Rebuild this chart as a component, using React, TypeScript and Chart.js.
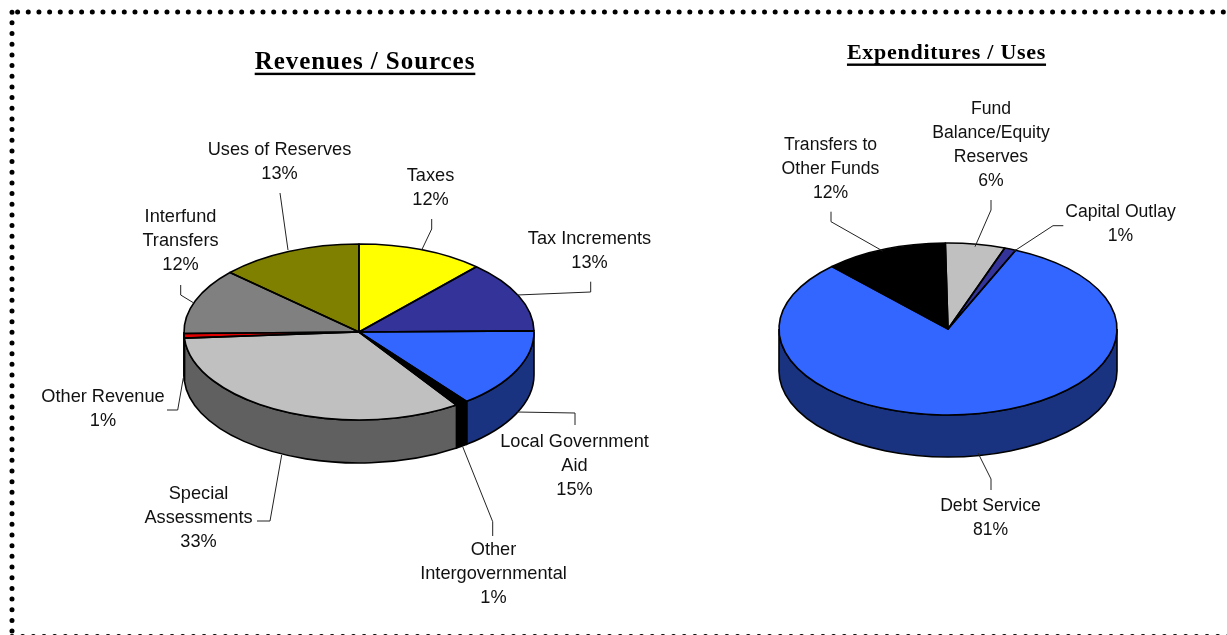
import React, { useEffect, useRef } from "react";
import { Chart, registerables } from "chart.js";
Chart.register(...registerables);

const revLabels = ["Taxes", "Tax Increments", "Local Government Aid", "Other Intergovernmental", "Special Assessments", "Other Revenue", "Interfund Transfers", "Uses of Reserves"];
const revValues = [11.7, 13.1, 14.65, 1.15, 33.3, 0.82, 12.08, 13.2];
const revColors = ["#FFFF00", "#333399", "#3366FF", "#000000", "#C0C0C0", "#E00000", "#808080", "#808000"];
const revSide = ["#808000", "#1A1A4D", "#1A3380", "#000000", "#606060", "#400000", "#404040", "#404000"];
const revText = [["Taxes", "12%"], ["Tax Increments", "13%"], ["Local Government", "Aid", "15%"], ["Other", "Intergovernmental", "1%"], ["Special", "Assessments", "33%"], ["Other Revenue", "1%"], ["Interfund", "Transfers", "12%"], ["Uses of Reserves", "13%"]];
const revAnchors = [[430.5, 187.7], [589.5, 250.7], [574.5, 465.5], [493.5, 573.7], [198.5, 517.7], [103, 408.7], [180.5, 240.7], [279.5, 161.7]];
const revLeaders = [[[421.7, 250], [431.7, 229], [431.7, 219]], [[517, 295], [590.7, 292], [590.7, 281.7]], [[517, 412], [575, 413], [575, 425]], [[462.7, 446.7], [492.7, 521.7], [492.7, 536]], [[281.7, 455], [270, 521], [257, 521]], [[183.3, 378], [177.7, 410], [167, 410]], [[193.3, 302.7], [180.7, 295], [180.7, 285]], [[288, 250], [280, 193]]];

const expLabels = ["Fund Balance/Equity Reserves", "Capital Outlay", "Debt Service", "Transfers to Other Funds"];
const expValues = [5.7, 1.1, 81.4, 11.8];
const expColors = ["#C0C0C0", "#333399", "#3366FF", "#000000"];
const expSide = ["#606060", "#1A1A4D", "#1A3380", "#000000"];
const expText = [["Fund", "Balance/Equity", "Reserves", "6%"], ["Capital Outlay", "1%"], ["Debt Service", "81%"], ["Transfers to", "Other Funds", "12%"]];
const expAnchors = [[991, 144.7], [1120.5, 223.7], [990.5, 517.7], [830.5, 168.7]];
const expLeaders = [[[975, 246.7], [991, 210], [991, 200]], [[1013.3, 251.7], [1053, 225.7], [1063.3, 225.7]], [[978, 453], [991, 479], [991, 490]], [[882.7, 251], [831, 221.7], [831, 211.7]]];

type Cfg = { labels: string[]; values: number[]; colors: string[]; side: string[]; rx: number; ry: number; cx: number; cy: number; depth: number; rot: number; text: string[][]; anchors: number[][]; leaders: number[][][]; title: string; tx: number; ty: number; tsize: number; tspace: number; ulo: number; lsize: number; left: number; width: number };

function depthAndSquash(c: Cfg) {
  return {
    id: "squash",
    beforeDatasetsDraw(chart: any) {
      const ctx = chart.ctx;
      const meta = chart.getDatasetMeta(0);
      const cx = meta.data[0].x, cy = meta.data[0].y, r = meta.data[0].outerRadius;
      const k = c.ry / r;
      const sy = (a: number) => cy + Math.sin(a) * r * k;
      ctx.save();
      ctx.lineWidth = 1.6;
      ctx.strokeStyle = "#000";
      // side wall, only where the rim faces the viewer
      meta.data.forEach((el: any, i: number) => {
        const s = Math.max(el.startAngle, 0), e = Math.min(el.endAngle, Math.PI);
        if (e <= s) return;
        ctx.beginPath();
        ctx.moveTo(cx + Math.cos(s) * r, sy(s));
        ctx.ellipse(cx, cy, r, r * k, 0, s, e);
        ctx.lineTo(cx + Math.cos(e) * r, sy(e) + c.depth);
        ctx.ellipse(cx, cy + c.depth, r, r * k, 0, e, s, true);
        ctx.closePath();
        ctx.fillStyle = c.side[i];
        ctx.fill();
        ctx.stroke();
      });
      ctx.restore();
      ctx.save();
      ctx.translate(cx, cy);
      ctx.scale(1, k);
      ctx.translate(-cx, -cy);
    },
    afterDatasetsDraw(chart: any) {
      const ctx = chart.ctx;
      ctx.restore();
      const meta = chart.getDatasetMeta(0);
      ctx.save();
      ctx.strokeStyle = "#000";
      ctx.fillStyle = "#111";
      // slice outlines on the tilted top face, at an even line width
      ctx.lineWidth = 1.6;
      ctx.lineJoin = "round";
      meta.data.forEach((el: any) => {
        const r = el.outerRadius;
        const k = c.ry / r;
        ctx.beginPath();
        ctx.moveTo(el.x, el.y);
        ctx.ellipse(el.x, el.y, r, r * k, 0, el.startAngle, el.endAngle);
        ctx.closePath();
        ctx.stroke();
      });
      ctx.strokeStyle = "#222";
      ctx.lineWidth = 1;
      c.leaders.forEach((pts) => {
        ctx.beginPath();
        pts.forEach(([x, y], j) => (j ? ctx.lineTo(x - c.left, y) : ctx.moveTo(x - c.left, y)));
        ctx.stroke();
      });
      ctx.font = `${c.lsize}px 'Liberation Sans', Arial, sans-serif`;
      ctx.textAlign = "center";
      ctx.textBaseline = "middle";
      c.text.forEach((lines, i) => {
        const [ax, ay] = c.anchors[i];
        const total = lines.length * 24;
        lines.forEach((t, j) => ctx.fillText(t, ax - c.left, ay - total / 2 + 12 + j * 24));
      });
      ctx.fillStyle = "#000";
      ctx.font = `bold ${c.tsize}px 'Liberation Serif', 'Times New Roman', serif`;
      ctx.letterSpacing = `${c.tspace}px`;
      ctx.textBaseline = "alphabetic";
      ctx.fillText(c.title, c.tx - c.left, c.ty);
      const w = ctx.measureText(c.title).width;
      ctx.fillRect(c.tx - c.left - w / 2, c.ty + c.ulo, w, 2.4);
      ctx.restore();
    },
  };
}

function Pie({ c }: { c: Cfg }) {
  const ref = useRef<HTMLCanvasElement>(null);
  useEffect(() => {
    const ch = new Chart(ref.current!, {
      type: "pie",
      data: { labels: c.labels, datasets: [{ data: c.values, backgroundColor: c.colors, borderWidth: 0 }] },
      options: {
        responsive: false,
        animation: false,
        rotation: c.rot,
        layout: { padding: { left: c.cx - c.left - c.rx, right: c.left + c.width - c.cx - c.rx, top: c.cy - c.rx, bottom: 635 - c.cy - c.rx } },
        plugins: { legend: { display: false }, tooltip: { enabled: false } },
      },
      plugins: [depthAndSquash(c)],
    });
    return () => ch.destroy();
  }, []);
  return <canvas ref={ref} width={c.width} height={635} style={{ position: "absolute", left: c.left, top: 0, width: c.width, height: 635 }} />;
}

const left: Cfg = { labels: revLabels, values: revValues, colors: revColors, side: revSide, rx: 175, ry: 88, cx: 359, cy: 332, depth: 43, rot: 0, text: revText, anchors: revAnchors, leaders: revLeaders, title: "Revenues / Sources", tx: 365, ty: 69.3, tsize: 25, tspace: 0.94, ulo: 3.4, lsize: 18.2, left: 0, width: 660 };
const right: Cfg = { labels: expLabels, values: expValues, colors: expColors, side: expSide, rx: 169, ry: 86, cx: 948, cy: 329, depth: 42, rot: -0.9, text: expText, anchors: expAnchors, leaders: expLeaders, title: "Expenditures / Uses", tx: 946.5, ty: 58.5, tsize: 22, tspace: 0.72, ulo: 5, lsize: 17.6, left: 660, width: 567 };

const dotStyle = { stroke: "#000", strokeWidth: 5, strokeLinecap: "round" as const, strokeDasharray: "0 10.67" };

export default function App() {
  useEffect(() => {
    document.body.style.margin = "0";
    document.body.style.background = "#fff";
  }, []);
  return (
    <div style={{ position: "relative", width: 1227, height: 635, overflow: "hidden" }}>
      <Pie c={left} />
      <Pie c={right} />
      <svg width={1227} height={635} style={{ position: "absolute", left: 0, top: 0 }}>
        <line x1={17.6} y1={12} x2={1240} y2={12} {...dotStyle} />
        <line x1={12} y1={12.2} x2={12} y2={640} {...dotStyle} />
        <line x1={12} y1={636.5} x2={1240} y2={636.5} {...dotStyle} />
      </svg>
    </div>
  );
}
